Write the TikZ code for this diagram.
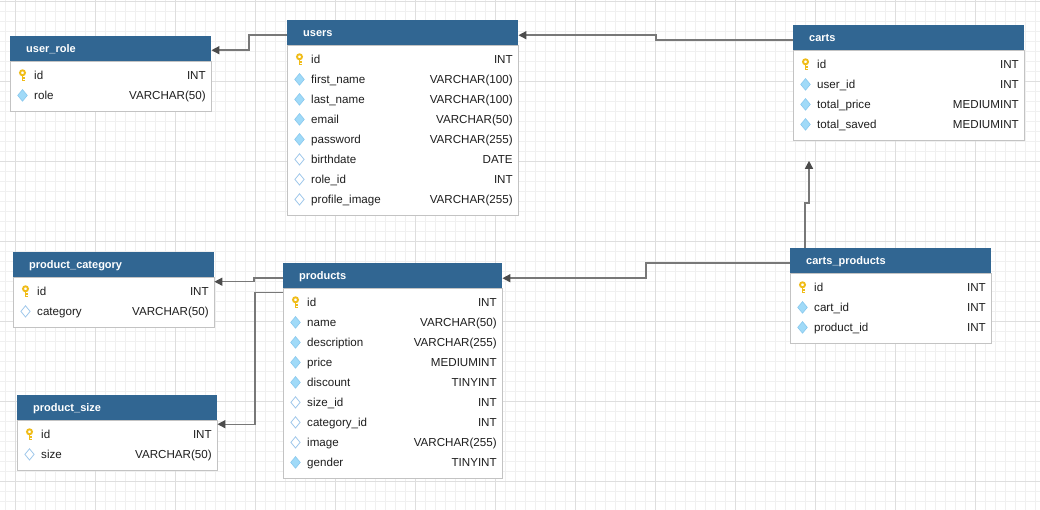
\documentclass[tikz,border=0pt]{standalone}
\usepackage{fontspec}
\setmainfont{Liberation Sans}
\usetikzlibrary{positioning,arrows.meta}
\definecolor{hdrblue}{RGB}{49,102,146}
\definecolor{gridminor}{RGB}{240,240,240}
\definecolor{gridmajor}{RGB}{222,222,222}
\definecolor{linegray}{RGB}{120,120,120}
\definecolor{tipgray}{RGB}{75,75,75}
\definecolor{keygold}{RGB}{240,188,24}
\definecolor{diafill}{RGB}{160,218,248}
\definecolor{diaedge}{RGB}{136,200,238}
\definecolor{hollowedge}{RGB}{160,200,235}
\definecolor{rowtext}{RGB}{30,30,30}
\definecolor{boxedge}{RGB}{195,195,195}
\tikzset{
  hdr/.style={anchor=north west, fill=hdrblue, text=white,
    font=\fontsize{11}{13}\selectfont\bfseries, inner xsep=16pt,
    inner ysep=0pt, minimum height=25pt, text height=8pt,
    text depth=0pt, align=left},
  tbody/.style={draw=boxedge, fill=white, inner sep=0pt},
  fld/.style={anchor=base west, inner sep=0pt, text=rowtext,
    font=\fontsize{11.6}{13}\selectfont},
  typ/.style={anchor=base east, inner sep=0pt, text=rowtext,
    font=\fontsize{11.6}{13}\selectfont},
  rel/.style={draw=linegray, line width=1.4pt,
    -{Triangle[length=8pt, width=8pt, color=tipgray]}},
  pk/.pic={
    \draw[keygold, line width=1.9pt] (0,-2.6) circle (2.5pt);
    \draw[keygold, line width=1.9pt] (0,0) -- (0,6);
    \draw[keygold, line width=1.6pt] (0,2.6) -- (2.1,2.6) (0,5.1) -- (2.1,5.1);
  },
  nn/.pic={
    \filldraw[fill=diafill, draw=diaedge, line width=0.6pt]
      (0,-5.8) -- (4.8,0) -- (0,5.8) -- (-4.8,0) -- cycle;
  },
  nul/.pic={
    \filldraw[fill=white, draw=hollowedge, line width=0.8pt]
      (0,-5.6) -- (4.6,0) -- (0,5.6) -- (-4.6,0) -- cycle;
  }
}
\begin{document}
\begin{tikzpicture}[x=1pt, y=-1pt]
  \useasboundingbox (0,0) rectangle (1040,510);
  \fill[white] (0,0) rectangle (1040,510);
  % background grid
  \foreach \gx in {5,15,...,1035}
    \draw[gridminor, line width=0.8pt] (\gx,0) -- (\gx,510);
  \foreach \gy in {1.7,11.7,...,501.7}
    \draw[gridminor, line width=0.8pt] (0,\gy) -- (1040,\gy);
  \foreach \gx in {15,95,...,975}
    \draw[gridmajor, line width=0.8pt] (\gx,0) -- (\gx,510);
  \foreach \gy in {1.7,81.7,...,481.7}
    \draw[gridmajor, line width=0.8pt] (0,\gy) -- (1040,\gy);

  % tables
  \node (user_role) [hdr, text width=169pt] at (10,36) {user\_role};
  \node (user_role-body) [tbody, minimum width=201pt, minimum height=50pt,
                         below=0pt of user_role] {};
  \foreach \ic/\fld/\typ [count=\i] in {pk/id/INT, nn/role/VARCHAR(50)} {
    \pic at ([xshift=12.5pt, yshift={-14pt-20pt*(\i-1)}]user_role.south west) {\ic};
    \node (user_role-f\i) [fld] at ([xshift=24pt, yshift={-18.2pt-20pt*(\i-1)}]user_role.south west) {\fld};
    \node (user_role-t\i) [typ] at ([xshift=-5.5pt, yshift={-18.2pt-20pt*(\i-1)}]user_role.south east) {\typ};
  }

  \node (users) [hdr, text width=199pt] at (287,20) {users};
  \node (users-body) [tbody, minimum width=231pt, minimum height=170pt,
                     below=0pt of users] {};
  \foreach \ic/\fld/\typ [count=\i] in {pk/id/INT, nn/first\_name/VARCHAR(100),
      nn/last\_name/VARCHAR(100), nn/email/VARCHAR(50), nn/password/VARCHAR(255),
      nul/birthdate/DATE, nul/role\_id/INT, nul/profile\_image/VARCHAR(255)} {
    \pic at ([xshift=12.5pt, yshift={-14pt-20pt*(\i-1)}]users.south west) {\ic};
    \node (users-f\i) [fld] at ([xshift=24pt, yshift={-18.2pt-20pt*(\i-1)}]users.south west) {\fld};
    \node (users-t\i) [typ] at ([xshift=-5.5pt, yshift={-18.2pt-20pt*(\i-1)}]users.south east) {\typ};
  }

  \node (carts) [hdr, text width=199pt] at (793,25) {carts};
  \node (carts-body) [tbody, minimum width=231pt, minimum height=90pt,
                     below=0pt of carts] {};
  \foreach \ic/\fld/\typ [count=\i] in {pk/id/INT, nn/user\_id/INT,
      nn/total\_price/MEDIUMINT, nn/total\_saved/MEDIUMINT} {
    \pic at ([xshift=12.5pt, yshift={-14pt-20pt*(\i-1)}]carts.south west) {\ic};
    \node (carts-f\i) [fld] at ([xshift=24pt, yshift={-18.2pt-20pt*(\i-1)}]carts.south west) {\fld};
    \node (carts-t\i) [typ] at ([xshift=-5.5pt, yshift={-18.2pt-20pt*(\i-1)}]carts.south east) {\typ};
  }

  \node (product_category) [hdr, text width=169pt] at (13,252) {product\_category};
  \node (product_category-body) [tbody, minimum width=201pt, minimum height=50pt,
                                below=0pt of product_category] {};
  \foreach \ic/\fld/\typ [count=\i] in {pk/id/INT, nul/category/VARCHAR(50)} {
    \pic at ([xshift=12.5pt, yshift={-14pt-20pt*(\i-1)}]product_category.south west) {\ic};
    \node (product_category-f\i) [fld] at ([xshift=24pt, yshift={-18.2pt-20pt*(\i-1)}]product_category.south west) {\fld};
    \node (product_category-t\i) [typ] at ([xshift=-5.5pt, yshift={-18.2pt-20pt*(\i-1)}]product_category.south east) {\typ};
  }

  \node (products) [hdr, text width=187pt] at (283,263) {products};
  \node (products-body) [tbody, minimum width=219pt, minimum height=190pt,
                        below=0pt of products] {};
  \foreach \ic/\fld/\typ [count=\i] in {pk/id/INT, nn/name/VARCHAR(50),
      nn/description/VARCHAR(255), nn/price/MEDIUMINT, nn/discount/TINYINT,
      nul/size\_id/INT, nul/category\_id/INT, nul/image/VARCHAR(255),
      nn/gender/TINYINT} {
    \pic at ([xshift=12.5pt, yshift={-14pt-20pt*(\i-1)}]products.south west) {\ic};
    \node (products-f\i) [fld] at ([xshift=24pt, yshift={-18.2pt-20pt*(\i-1)}]products.south west) {\fld};
    \node (products-t\i) [typ] at ([xshift=-5.5pt, yshift={-18.2pt-20pt*(\i-1)}]products.south east) {\typ};
  }

  \node (product_size) [hdr, text width=168pt] at (17,395) {product\_size};
  \node (product_size-body) [tbody, minimum width=200pt, minimum height=50pt,
                            below=0pt of product_size] {};
  \foreach \ic/\fld/\typ [count=\i] in {pk/id/INT, nul/size/VARCHAR(50)} {
    \pic at ([xshift=12.5pt, yshift={-14pt-20pt*(\i-1)}]product_size.south west) {\ic};
    \node (product_size-f\i) [fld] at ([xshift=24pt, yshift={-18.2pt-20pt*(\i-1)}]product_size.south west) {\fld};
    \node (product_size-t\i) [typ] at ([xshift=-5.5pt, yshift={-18.2pt-20pt*(\i-1)}]product_size.south east) {\typ};
  }

  \node (carts_products) [hdr, text width=169pt] at (790,248) {carts\_products};
  \node (carts_products-body) [tbody, minimum width=201pt, minimum height=70pt,
                              below=0pt of carts_products] {};
  \foreach \ic/\fld/\typ [count=\i] in {pk/id/INT, nn/cart\_id/INT,
      nn/product\_id/INT} {
    \pic at ([xshift=12.5pt, yshift={-14pt-20pt*(\i-1)}]carts_products.south west) {\ic};
    \node (carts_products-f\i) [fld] at ([xshift=24pt, yshift={-18.2pt-20pt*(\i-1)}]carts_products.south west) {\fld};
    \node (carts_products-t\i) [typ] at ([xshift=-5.5pt, yshift={-18.2pt-20pt*(\i-1)}]carts_products.south east) {\typ};
  }

  % relations
  \draw[rel] ([yshift=-2.5pt]users.west) -- ++(-38,0) |- ([yshift=-1.5pt]user_role.east);
  \draw[rel] ([yshift=-2.5pt]carts.west) -- ++(-137,0) |- ([yshift=-2.5pt]users.east);
  \draw[rel] ([xshift=15pt]carts_products.north west) -- ++(0,-45)
             -| ([xshift=16pt, yshift=-20pt]carts-body.south west);
  \draw[rel] ([yshift=-2.5pt]carts_products.west) -- ++(-144,0) |- ([yshift=-2.5pt]products.east);
  \draw[rel] ([yshift=-2.5pt]products.west) -- ++(-29,0) |- ([yshift=-17pt]product_category.east);
  \draw[rel] ([yshift=-16.5pt]products.west) -- ++(-28,0) |- ([yshift=-16.5pt]product_size.east);
\end{tikzpicture}
\end{document}
